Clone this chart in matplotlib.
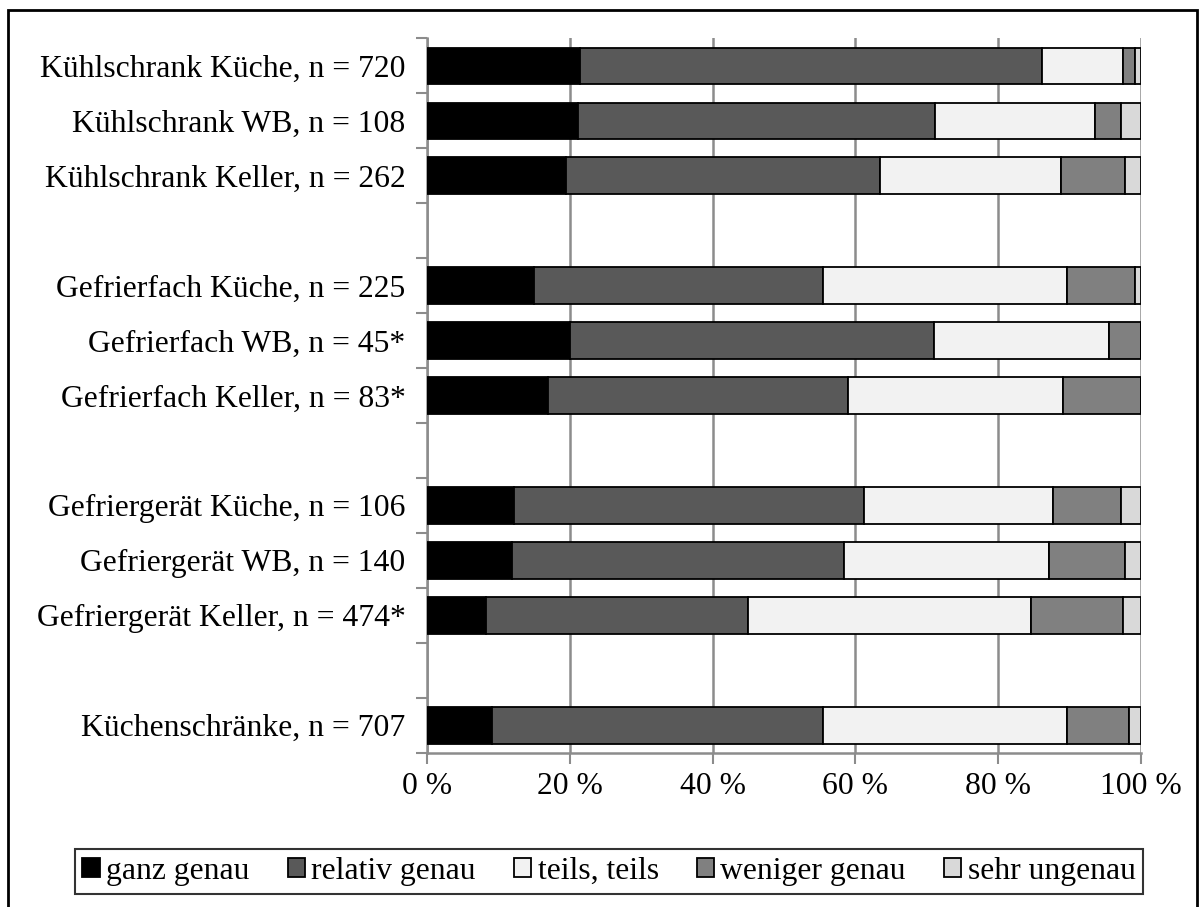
import numpy as np
import matplotlib
matplotlib.use("Agg")
import matplotlib.pyplot as plt
from matplotlib.patches import Rectangle

plt.rcParams['font.family'] = ['Liberation Serif', 'DejaVu Serif']

# data (percent per answer category)
labels = [
    'Kühlschrank Küche, n = 720',
    'Kühlschrank WB, n = 108',
    'Kühlschrank Keller, n = 262',
    'Gefrierfach Küche, n = 225',
    'Gefrierfach WB, n = 45*',
    'Gefrierfach Keller, n = 83*',
    'Gefriergerät Küche, n = 106',
    'Gefriergerät WB, n = 140',
    'Gefriergerät Keller, n = 474*',
    'Küchenschränke, n = 707',
]
categories = ['ganz genau', 'relativ genau', 'teils, teils', 'weniger genau', 'sehr ungenau']
ganz_genau = [21.4, 21.2, 19.5, 15.0, 20.0, 17.0, 12.2, 11.9, 8.3, 9.1]
relativ_genau = [64.7, 50.0, 43.9, 40.4, 51.0, 42.0, 49.0, 46.5, 36.7, 46.3]
teils_teils = [11.4, 22.4, 25.4, 34.2, 24.5, 30.1, 26.5, 28.7, 39.6, 34.2]
weniger_genau = [1.7, 3.6, 9.0, 9.6, 4.5, 10.9, 9.5, 10.7, 12.9, 8.7]
sehr_ungenau = [0.8, 2.8, 2.2, 0.8, 0.0, 0.0, 2.8, 2.2, 2.5, 1.7]
# row slot of each bar (empty slots separate the groups)
slots = [0, 1, 2, 4, 5, 6, 8, 9, 10, 12]

colors = ['#000000', '#595959', '#f2f2f2', '#808080', '#d9d9d9']
series = [ganz_genau, relativ_genau, teils_teils, weniger_genau, sehr_ungenau]

W, H = 1202, 907
fig = plt.figure(figsize=(W / 100, H / 100), dpi=100)
ax = fig.add_axes([427 / W, 1 - 752.7 / H, (1141 - 427) / W, (752.7 - 38.5) / H])

left = np.zeros(len(labels))
for vals, col, name in zip(series, colors, categories):
    vals = np.array(vals)
    ax.barh(slots, vals, left=left, height=0.67, color=col,
            edgecolor='black', linewidth=1.3, label=name, zorder=3)
    left += vals

ax.set_xlim(0, 100)
ax.set_ylim(12.5, -0.5)

ax.set_xticks(np.arange(0, 101, 20))
ax.set_xticklabels([f'{v} %' for v in range(0, 101, 20)])
ax.xaxis.grid(True, color='#8c8c8c', linewidth=1.8, zorder=0)
ax.tick_params(axis='x', length=8, width=1.5, color='#8c8c8c', labelsize=22.8, pad=6)

ax.set_yticks(np.arange(-0.5, 13, 1))
ax.set_yticklabels([])
ax.set_yticks(slots, minor=True)
ax.set_yticklabels(labels, minor=True)
ax.tick_params(axis='y', which='major', length=8, width=1.5, color='#8c8c8c')
ax.tick_params(axis='y', which='minor', length=0, labelsize=22.8, pad=15.5)

for s in ['top', 'right']:
    ax.spines[s].set_visible(False)
for s in ['left', 'bottom']:
    ax.spines[s].set_color('#8c8c8c')
    ax.spines[s].set_linewidth(1.8)

leg = fig.legend(loc='center', bbox_to_anchor=((67 + 1151) / 2 / W, 1 - (846 + 897) / 2 / H),
                 ncol=5, fontsize=22.8, frameon=True, fancybox=False,
                 handlelength=0.55, handleheight=0.55, handletextpad=0.2,
                 columnspacing=1.2, borderpad=0.25, borderaxespad=0)
leg.get_frame().set_edgecolor('black')
leg.get_frame().set_linewidth(1.5)

# outer frame
fig.patches.append(Rectangle((8 / W, -0.02), (1197 - 8) / W, 1.02 - 10 / H,
                             transform=fig.transFigure, fill=False,
                             edgecolor='black', linewidth=2))

fig.savefig('out.png', dpi=100)
